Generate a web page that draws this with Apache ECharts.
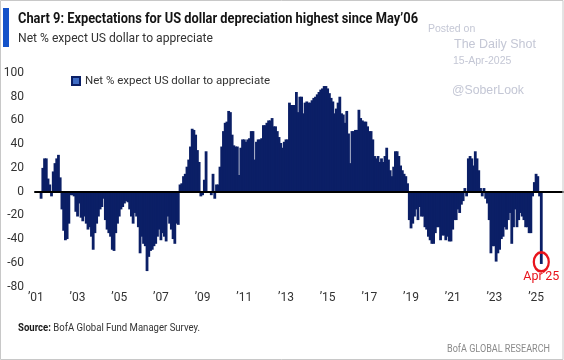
<!DOCTYPE html>
<html>
<head>
<meta charset="utf-8">
<script src="https://cdn.jsdelivr.net/npm/echarts@6/dist/echarts.min.js"></script>
<style>
html,body{margin:0;padding:0;background:#fff;}
#chart{width:564px;height:360px;}
</style>
</head>
<body>
<div id="chart"></div>
<script>
// ---------------- DATA (net % of FMS investors expecting USD to appreciate) ----------------
const seriesName = 'Net % expect US dollar to appreciate';
const v2001 = [-6, 20, 28, 28, 11, 6, -4, 17, 24];            // Apr..Dec 2001
const v2002 = [28, 31, 12, -15, -33, -41, -40, -27, -3, -3, -4, -17];
const v2003 = [-21, -10, -22, -25, -21, -27, -32, -30, -38, -49, -35, -27];
const v2004 = [-21, -15, -13, -6, -24, -32, -35, -38, -49, -50, -35, -27];
const v2005 = [-21, -15, -13, -10, -8, -9, -15, -21, -27, -18, -21, -30];
const v2006 = [-52, -38, -44, -46, -67, -55, -50, -49, -46, -44, -38, -32];
const v2007 = [-41, -35, -38, -42, -21, -27, -32, -40, -44, -27, -28, 6];
const v2008 = [7, 13, 15, 21, 27, 38, 53, 52, 48, 35, 25, -4];
const v2009 = [-3, 10, 34, -1, -1, -3, 15, -6, 6, 6, 21, 38];
const v2010 = [51, 58, 59, 68, 67, 48, 39, 38, 38, 14, 37, 44];
const v2011 = [44, 42, 44, 45, 51, 51, 27, 42, 44, 44, 45, 56];
const v2012 = [56, 58, 60, 60, 62, 55, 55, 51, 46, 41, 37, 42];
const v2013 = [44, 44, 75, 73, 73, 73, 84, 67, 80, 80, 66, 75];
const v2014 = [76, 75, 75, 77, 79, 80, 82, 84, 86, 87, 89, 89];
const v2015 = [87, 83, 79, 76, 66, 70, 75, 80, 66, 65, 58, 68];
const v2016 = [49, 24, 51, 51, 52, 52, 69, 62, 60, 59, 59, 55];
const v2017 = [51, 51, 44, 30, 28, 30, 25, 28, 25, 30, 37, 27];
const v2018 = [18, 13, 21, 34, 34, 30, 22, 18, 15, 13, 7, -24];
const v2019 = [-31, -27, -21, -15, -24, -13, -21, -21, -30, -32, -38, -41];
const v2020 = [-44, -44, -35, -30, -30, -41, -37, -37, -41, -38, -42, -42];
const v2021 = [-32, -24, -24, -15, -18, -11, -8, 3, -4, 28, 30, 28];
const v2022 = [22, 34, 28, 18, 3, -4, 3, -6, -10, -24, -52, -46];
const v2023 = [-46, -59, -52, -49, -40, -38, -30, -32, -24, -18, -44, -30];
const v2024 = [-15, -30, -24, -18, -21, -24, -30, -30, -35, -35, -4, 8];
const v2025 = [15, 13, -4, -61];                               // Jan..Apr 2025
const yearlyValues = [v2001, v2002, v2003, v2004, v2005, v2006, v2007, v2008, v2009, v2010,
  v2011, v2012, v2013, v2014, v2015, v2016, v2017, v2018, v2019, v2020, v2021, v2022, v2023, v2024, v2025];
const firstDataMonth = '2001-04';
const axisStart = '2001-01';
const axisEnd = '2026-04';
const yMin = -80, yMax = 100, yStep = 20;
const annotationText = 'Apr\u201925';

// ---------------- BUILD CATEGORIES / SERIES ----------------
const categories = [];
{
  let [y, m] = axisStart.split('-').map(Number);
  const [ey, em] = axisEnd.split('-').map(Number);
  while (y < ey || (y === ey && m <= em)) {
    categories.push(y + '-' + String(m).padStart(2, '0'));
    m++; if (m > 12) { m = 1; y++; }
  }
}
const flatValues = [].concat(...yearlyValues);
const startIdx = categories.indexOf(firstDataMonth);
const barData = categories.map((c, i) => {
  const k = i - startIdx;
  return (k >= 0 && k < flatValues.length) ? flatValues[k] : null;
});
const lastIdx = startIdx + flatValues.length - 1;
const lastCat = categories[lastIdx];
const lastVal = flatValues[flatValues.length - 1];

// ---------------- TEXT FITTING HELPERS ----------------
const mctx = document.createElement('canvas').getContext('2d');
function textW(txt, font) { mctx.font = font; return mctx.measureText(txt).width; }

const titleText = 'Chart 9: Expectations for US dollar depreciation highest since May\u201906';
const subText = 'Net % expect US dollar to appreciate';
const titleFont = 'bold 15px Roboto';
const subFont = '13px Roboto';
const titleScale = 400 / textW(titleText, titleFont);
const subScale = 195 / textW(subText, subFont);
const srcB = 'Source:';
const srcR = ' BofA Global Fund Manager Survey.';
const srcW = textW(srcB, 'bold 10.5px Roboto') + textW(srcR, '10.5px Roboto');
const srcScale = 182 / srcW;
const bofaText = 'BofA GLOBAL RESEARCH';
const bofaScale = 103 / textW(bofaText, '11px Roboto');

const navy = '#0b1f66';
const red = '#e8141c';
const wm = '#c4c7d5';

const chart = echarts.init(document.getElementById('chart'), null, { renderer: 'canvas' });
chart.setOption({
  animation: false,
  backgroundColor: '#ffffff',
  grid: { left: 35, right: 1, top: 73, bottom: 73.5, containLabel: false },
  legend: {
    data: [seriesName],
    left: 66, top: 70,
    itemWidth: 8, itemHeight: 8, icon: 'rect',
    itemStyle: { color: '#3f6cc4', borderColor: navy, borderWidth: 2 },
    textStyle: { fontFamily: 'Roboto', fontSize: 11.5, color: '#333' },
    selectedMode: false
  },
  xAxis: [{
    type: 'category',
    data: categories,
    boundaryGap: true,
    axisLine: { show: false, onZero: false },
    axisTick: { show: false },
    splitLine: { show: false },
    axisLabel: {
      interval: (i) => i % 24 === 0,
      formatter: (v) => '\u2019' + v.slice(2, 4),
      fontFamily: 'Roboto', fontSize: 12, color: '#333', margin: 5
    }
  }, {
    type: 'category',
    data: categories,
    position: 'bottom',
    z: 10,
    axisLine: { show: true, onZero: true, lineStyle: { color: '#000', width: 2 } },
    axisTick: { show: false },
    axisLabel: { show: false },
    splitLine: { show: false }
  }],
  yAxis: {
    type: 'value',
    min: yMin, max: yMax, interval: yStep,
    axisLine: { show: false },
    axisTick: { show: false },
    splitLine: { show: false },
    axisLabel: { fontFamily: 'Roboto', fontSize: 12, color: '#333', margin: 11 }
  },
  series: [{
    name: seriesName,
    type: 'bar',
    data: barData,
    barWidth: 2.8,
    itemStyle: { color: navy },
    markPoint: {
      symbol: 'circle',
      symbolSize: [15, 19],
      symbolOffset: [0, -2],
      silent: true,
      itemStyle: { color: 'rgba(0,0,0,0)', borderColor: red, borderWidth: 2.5 },
      label: {
        show: true, formatter: annotationText, position: 'inside', offset: [0, 15],
        color: red, fontFamily: 'Roboto', fontSize: 12.5
      },
      data: [{ coord: [lastCat, lastVal] }]
    }
  }],
  graphic: [
    { type: 'rect', silent: true, z: 100, shape: { x: 0.5, y: 0.5, width: 562.5, height: 359 },
      style: { fill: 'none', stroke: '#c8c8c8', lineWidth: 1 } },
    { type: 'rect', silent: true, shape: { x: 3, y: 8, width: 6, height: 39 }, style: { fill: '#1452c9' } },
    { type: 'text', x: 18, y: 19.5, scaleX: titleScale, silent: true,
      style: { text: titleText, font: titleFont, fill: '#141414', textAlign: 'left', textVerticalAlign: 'middle' } },
    { type: 'text', x: 18, y: 39, scaleX: subScale, silent: true,
      style: { text: subText, font: subFont, fill: '#333', textAlign: 'left', textVerticalAlign: 'middle' } },
    { type: 'text', x: 428, y: 29, silent: true,
      style: { text: 'Posted on', font: '10.5px "Liberation Sans"', fill: wm, textAlign: 'left', textVerticalAlign: 'middle' } },
    { type: 'text', x: 454, y: 45, silent: true,
      style: { text: 'The Daily Shot', font: '12.5px "Liberation Sans"', fill: wm, textAlign: 'left', textVerticalAlign: 'middle' } },
    { type: 'text', x: 453, y: 61.5, silent: true,
      style: { text: '15-Apr-2025', font: '10.5px "Liberation Sans"', fill: wm, textAlign: 'left', textVerticalAlign: 'middle' } },
    { type: 'text', x: 452, y: 90.5, silent: true,
      style: { text: '@SoberLook', font: '12.3px "Liberation Sans"', fill: wm, textAlign: 'left', textVerticalAlign: 'middle' } },
    { type: 'text', x: 18, y: 328, scaleX: srcScale, silent: true,
      style: { text: '{b|' + srcB + '}{r|' + srcR + '}', textAlign: 'left', textVerticalAlign: 'middle',
        rich: { b: { fontFamily: 'Roboto', fontWeight: 'bold', fontSize: 10.5, fill: '#1a1a1a' },
                r: { fontFamily: 'Roboto', fontSize: 10.5, fill: '#333' } } } },
    { type: 'text', x: 550, y: 349.5, scaleX: bofaScale, silent: true,
      style: { text: bofaText, font: '11px Roboto', fill: '#8a8a8a', textAlign: 'right', textVerticalAlign: 'middle' } }
  ]
});
</script>
</body>
</html>
